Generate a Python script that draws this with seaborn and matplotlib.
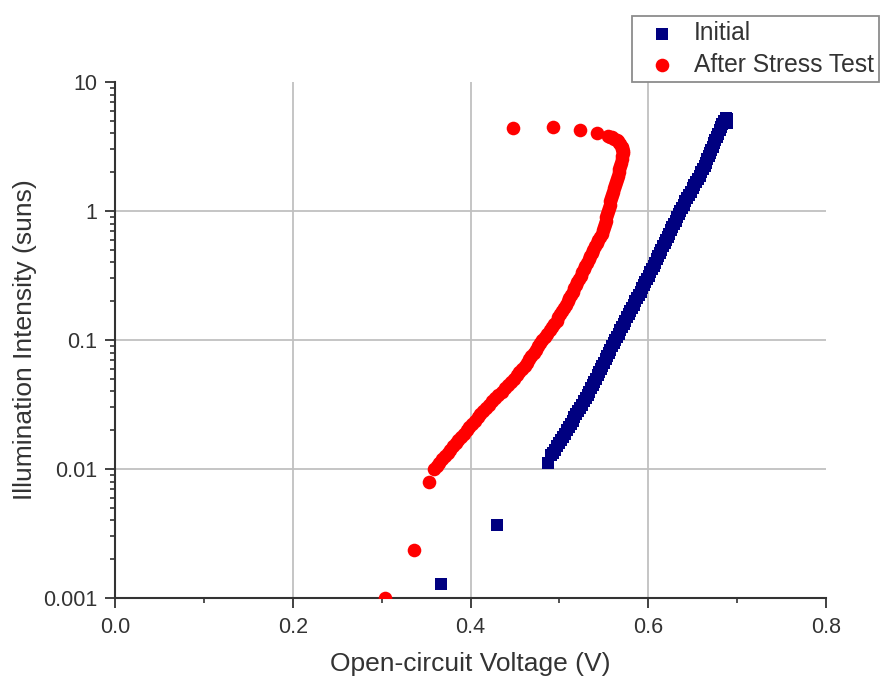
import pandas as pd
import seaborn as sns
import matplotlib.pyplot as plt
from matplotlib.ticker import FixedLocator, FixedFormatter, LogLocator, NullFormatter

# -----------------------------
# Data
# -----------------------------
initial_voc = [
    0.367, 0.430, 0.487, 0.491,
    0.4926, 0.4948, 0.4970, 0.4992, 0.5015, 0.5037, 0.5059, 0.5081, 0.5104, 0.5126,
    0.5148, 0.5170, 0.5192, 0.5214, 0.5237, 0.5259, 0.5280, 0.5301, 0.5320, 0.5338,
    0.5356, 0.5374, 0.5393, 0.5411, 0.5429, 0.5447, 0.5466, 0.5484, 0.5502, 0.5520,
    0.5539, 0.5557, 0.5575, 0.5593, 0.5612, 0.5630, 0.5649, 0.5668, 0.5687, 0.5705,
    0.5724, 0.5743, 0.5762, 0.5781, 0.5800, 0.5819, 0.5838, 0.5856, 0.5875, 0.5894,
    0.5913, 0.5932, 0.5951, 0.5969, 0.5988, 0.6007, 0.6025, 0.6043, 0.6061, 0.6078,
    0.6096, 0.6114, 0.6132, 0.6149, 0.6167, 0.6184, 0.6202, 0.6219, 0.6237, 0.6254,
    0.6272, 0.6290, 0.6308, 0.6325, 0.6343, 0.6360, 0.6380, 0.6399, 0.6419, 0.6439,
    0.6459, 0.6478, 0.6498, 0.6517, 0.6537, 0.6557, 0.6577, 0.6596, 0.6615, 0.6634,
    0.6650, 0.6665, 0.6680, 0.6695, 0.6710, 0.6725, 0.6741, 0.6756, 0.6771, 0.6786,
    0.6802, 0.6817, 0.6832, 0.6847, 0.6870, 0.6890, 0.6885,
]
initial_suns = [
    0.00128, 0.00368, 0.0111, 0.0128,
    0.0133, 0.0141, 0.0150, 0.0159, 0.0168, 0.0178, 0.0188, 0.0200, 0.0211, 0.0224,
    0.0237, 0.0251, 0.0266, 0.0282, 0.0299, 0.0316, 0.0335, 0.0355, 0.0376, 0.0398,
    0.0422, 0.0447, 0.0473, 0.0501, 0.0531, 0.0562, 0.0596, 0.0631, 0.0668, 0.0708,
    0.0750, 0.0794, 0.0841, 0.0891, 0.0944, 0.100, 0.106, 0.112, 0.119, 0.126,
    0.133, 0.141, 0.150, 0.158, 0.168, 0.178, 0.188, 0.200, 0.211, 0.224,
    0.237, 0.251, 0.266, 0.282, 0.299, 0.316, 0.335, 0.355, 0.376, 0.398,
    0.422, 0.447, 0.473, 0.501, 0.531, 0.562, 0.596, 0.631, 0.668, 0.708,
    0.750, 0.794, 0.841, 0.891, 0.944, 1.00, 1.06, 1.12, 1.19, 1.26,
    1.33, 1.41, 1.50, 1.58, 1.68, 1.78, 1.88, 2.00, 2.11, 2.24,
    2.37, 2.51, 2.66, 2.82, 2.99, 3.16, 3.35, 3.55, 3.76, 3.98,
    4.22, 4.47, 4.73, 5.01, 5.30, 5.20, 4.85,
]

stress_voc = [
    0.304, 0.336, 0.353,
    0.3591, 0.3621, 0.3651, 0.3682, 0.3712, 0.3742, 0.3773, 0.3803, 0.3833, 0.3864,
    0.3894, 0.3925, 0.3955, 0.3986, 0.4017, 0.4048, 0.4079, 0.4110, 0.4141, 0.4174,
    0.4207, 0.4243, 0.4279, 0.4315, 0.4351, 0.4388, 0.4424, 0.4456, 0.4488, 0.4518,
    0.4548, 0.4579, 0.4609, 0.4636, 0.4662, 0.4686, 0.4710, 0.4735, 0.4759, 0.4785,
    0.4810, 0.4838, 0.4865, 0.4892, 0.4919, 0.4944, 0.4969, 0.4990, 0.5011, 0.5032,
    0.5053, 0.5074, 0.5094, 0.5112, 0.5130, 0.5148, 0.5166, 0.5184, 0.5202, 0.5221,
    0.5239, 0.5257, 0.5275, 0.5293, 0.5311, 0.5329, 0.5347, 0.5365, 0.5383, 0.5402,
    0.5420, 0.5438, 0.5456, 0.5474, 0.5492, 0.5502, 0.5511, 0.5521, 0.5530, 0.5539,
    0.5548, 0.5557, 0.5566, 0.5575, 0.5584, 0.5593, 0.5602, 0.5612, 0.5623, 0.5634,
    0.5645, 0.5656, 0.5666, 0.5676, 0.5686, 0.5696, 0.5705, 0.5709, 0.5712, 0.5711,
    0.5710, 0.5705, 0.5700, 0.5685, 0.5670, 0.5658, 0.5645, 0.5618, 0.5590, 0.5570,
    0.5551,
    0.5423, 0.5232, 0.4928, 0.4478,
]
stress_suns = [
    0.00100, 0.00236, 0.0079,
    0.0100, 0.0106, 0.0112, 0.0119, 0.0126, 0.0133, 0.0141, 0.0150, 0.0159, 0.0168,
    0.0178, 0.0188, 0.0200, 0.0211, 0.0224, 0.0237, 0.0251, 0.0266, 0.0282, 0.0299,
    0.0316, 0.0335, 0.0355, 0.0376, 0.0398, 0.0422, 0.0447, 0.0473, 0.0501, 0.0531,
    0.0562, 0.0596, 0.0631, 0.0668, 0.0708, 0.0750, 0.0794, 0.0841, 0.0891, 0.0944,
    0.100, 0.106, 0.112, 0.119, 0.126, 0.133, 0.141, 0.150, 0.158, 0.168,
    0.178, 0.188, 0.200, 0.211, 0.224, 0.237, 0.251, 0.266, 0.282, 0.299,
    0.316, 0.335, 0.355, 0.376, 0.398, 0.422, 0.447, 0.473, 0.501, 0.531,
    0.562, 0.596, 0.631, 0.668, 0.708, 0.750, 0.794, 0.841, 0.891, 0.944,
    1.00, 1.06, 1.12, 1.19, 1.26, 1.33, 1.41, 1.50, 1.58, 1.68,
    1.78, 1.88, 2.00, 2.11, 2.24, 2.37, 2.51, 2.66, 2.82, 2.92,
    3.02, 3.09, 3.16, 3.28, 3.39, 3.47, 3.55, 3.64, 3.72, 3.77,
    3.81,
    4.03, 4.25, 4.48, 4.40,
]

series_names = ["Initial", "After Stress Test"]
series_colors = ["#000080", "#FF0000"]

x_ticks = [0.0, 0.2, 0.4, 0.6, 0.8]
x_tick_labels = ["0.0", "0.2", "0.4", "0.6", "0.8"]
x_minor = [0.1, 0.3, 0.5, 0.7]
y_ticks = [0.001, 0.01, 0.1, 1, 10]
y_tick_labels = ["0.001", "0.01", "0.1", "1", "10"]

df = pd.concat([
    pd.DataFrame({"voc": initial_voc, "suns": initial_suns, "series": series_names[0]}),
    pd.DataFrame({"voc": stress_voc, "suns": stress_suns, "series": series_names[1]}),
], ignore_index=True)

# -----------------------------
# Style
# -----------------------------
sns.set_style("ticks")
plt.rcParams["font.family"] = ["Liberation Sans", "DejaVu Sans"]
text_color = "#333333"

fig = plt.figure(figsize=(8.8, 6.78), dpi=100)
ax = fig.add_axes([115 / 880, 1 - 598 / 678, (826 - 115) / 880, (598 - 82) / 678])

# light grid at inner major ticks
for gx in [0.2, 0.4, 0.6]:
    ax.axvline(gx, color="#c0c0c0", lw=1.3, zorder=0)
for gy in [0.01, 0.1, 1]:
    ax.axhline(gy, color="#c0c0c0", lw=1.3, zorder=0)

sns.scatterplot(data=df[df["series"] == series_names[0]], x="voc", y="suns",
                marker="s", s=76, color=series_colors[0], linewidth=0,
                label=series_names[0], ax=ax, zorder=3)
sns.scatterplot(data=df[df["series"] == series_names[1]], x="voc", y="suns",
                marker="o", s=96, color=series_colors[1], linewidth=0,
                label=series_names[1], ax=ax, zorder=3)

ax.set_yscale("log")
ax.set_xlim(0, 0.8)
ax.set_ylim(0.001, 10)

ax.xaxis.set_major_locator(FixedLocator(x_ticks))
ax.xaxis.set_major_formatter(FixedFormatter(x_tick_labels))
ax.xaxis.set_minor_locator(FixedLocator(x_minor))
ax.yaxis.set_major_locator(FixedLocator(y_ticks))
ax.yaxis.set_major_formatter(FixedFormatter(y_tick_labels))
ax.yaxis.set_minor_locator(LogLocator(base=10, subs=range(2, 10)))
ax.yaxis.set_minor_formatter(NullFormatter())

for side in ["top", "right"]:
    ax.spines[side].set_visible(False)
for side in ["left", "bottom"]:
    ax.spines[side].set_color("#333333")
    ax.spines[side].set_linewidth(1.5)

ax.tick_params(which="major", direction="out", length=7, width=1.3,
               color="#333333", labelsize=15.5, labelcolor=text_color)
ax.tick_params(axis="y", which="major", pad=6)
ax.tick_params(axis="x", which="major", pad=7)
ax.tick_params(which="minor", direction="out", length=3.5, width=1.2,
               color="#333333")

ax.set_xlabel("Open-circuit Voltage (V)", fontsize=19, color=text_color, labelpad=10)
ax.set_ylabel("Illumination Intensity (suns)", fontsize=19, color=text_color, labelpad=4)

leg = ax.legend(loc="upper right", bbox_to_anchor=(879 / 880, 1 - 16 / 678),
                bbox_transform=fig.transFigure, borderaxespad=0,
                fontsize=17.7, frameon=True, fancybox=False, framealpha=1,
                edgecolor="#8c8c8c", handletextpad=0.3, borderpad=0.22,
                labelspacing=0.3, handlelength=2.0)
leg.get_frame().set_linewidth(1.3)
for t in leg.get_texts():
    t.set_color(text_color)

fig.savefig("out.png", dpi=100)
